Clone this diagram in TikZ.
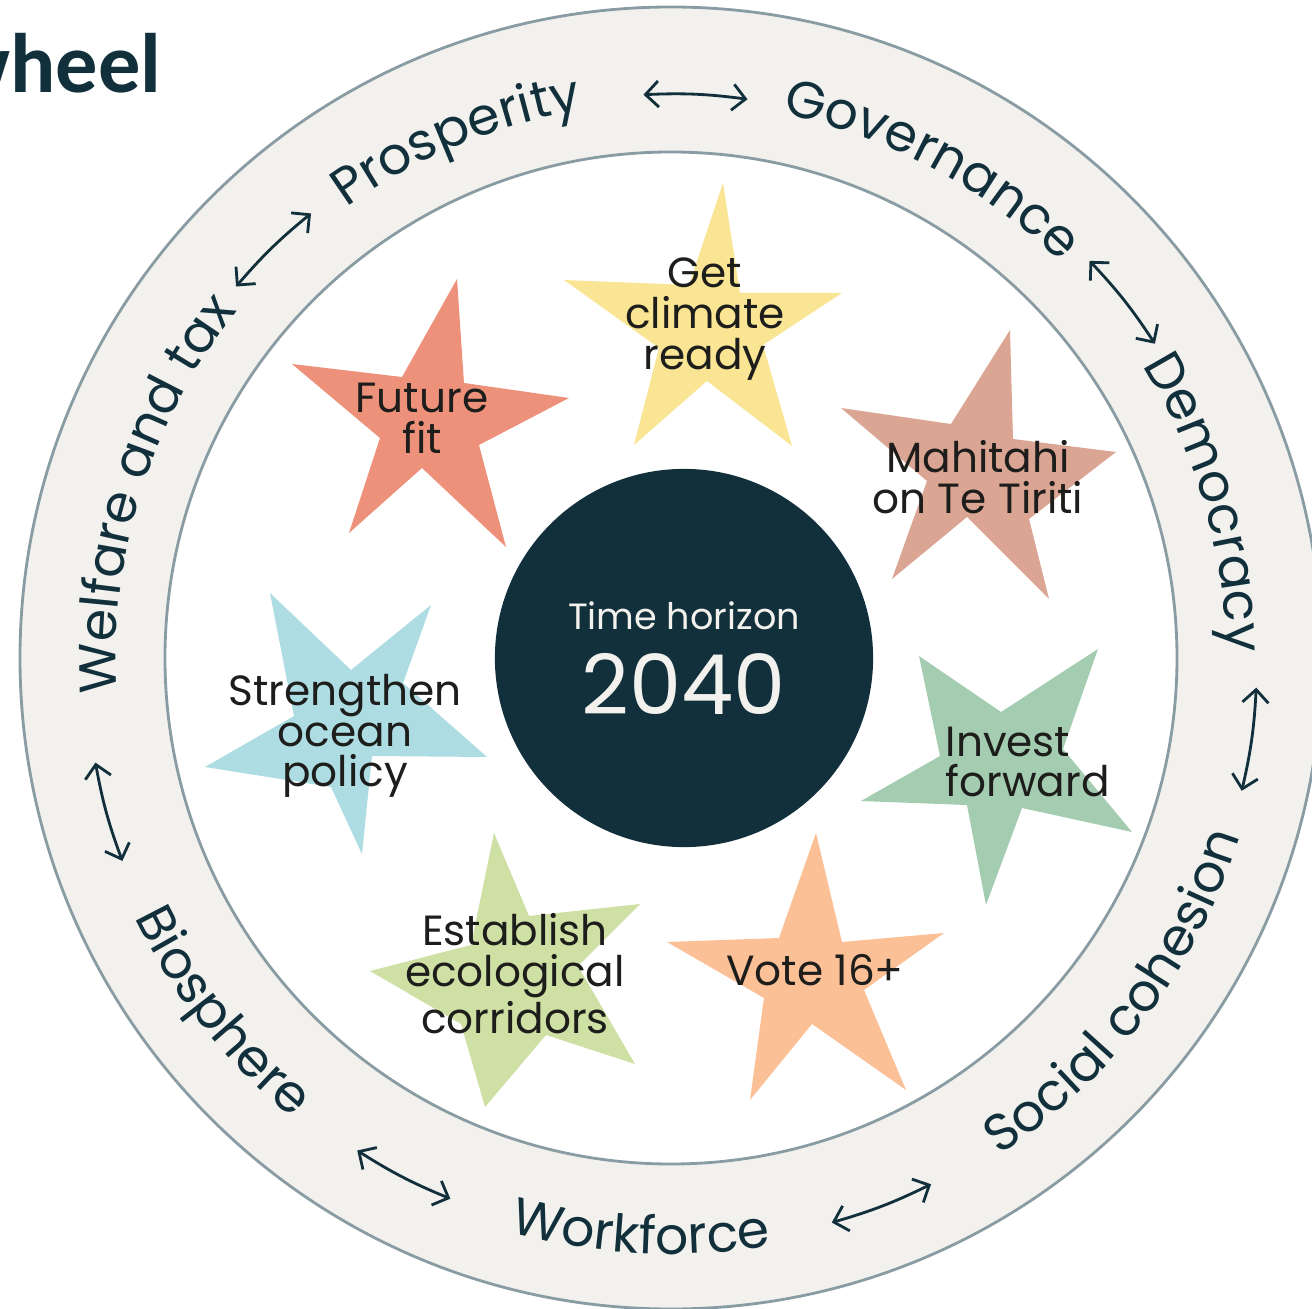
\documentclass[tikz,border=0pt]{standalone}
\usepackage{fontspec}
\setmainfont{Poppins}
\newfontfamily\titlefont{Carlito}
\usetikzlibrary{decorations.text,arrows.meta}
\definecolor{deepteal}{HTML}{11303B}
\definecolor{ringgrey}{HTML}{F2F1EE}
\definecolor{rimline}{HTML}{8A9CA3}
\definecolor{ink}{HTML}{1D1D1B}
\definecolor{offwhite}{HTML}{F2F1EE}
\definecolor{futurefit}{HTML}{EE917A}
\definecolor{climate}{HTML}{F9E594}
\definecolor{mahitahi}{HTML}{DBA594}
\definecolor{invest}{HTML}{A4CCB1}
\definecolor{vote}{HTML}{FBC096}
\definecolor{corridor}{HTML}{CFE0A4}
\definecolor{ocean}{HTML}{AEDCE3}
\newcommand\ringfont{\fontsize{14.8}{16}\selectfont}
\begin{document}
\begin{tikzpicture}[x=0.01cm,y=0.01cm]
\tikzstyle{lbl}=[align=center, text=ink, inner sep=0, font=\fontsize{12}{11.6}\selectfont]
\tikzstyle{twoway}=[{Straight Barb[length=1.3mm,width=2.6mm]}-{Straight Barb[length=1.3mm,width=2.6mm]}, line width=0.8pt, draw=deepteal]
\tikzstyle{rim}=[draw=rimline, line width=0.8pt]

% page, centre of the wheel at (0,0)
\useasboundingbox (-671,-651) rectangle (641,658);
\clip (-671,-651) rectangle (641,658);
\fill[white] (-671,-651) rectangle (641,658);

\node (title) [anchor=base east, inner sep=0, text=deepteal, font=\titlefont\bfseries\fontsize{24}{24}\selectfont] at (-509,565) {wheel};

% ring
\fill[ringgrey] (0,0) circle[radius=651];
\draw[rim] (0,0) circle[radius=651];
\filldraw[rim, fill=white] (0,0) circle[radius=506];

% ring words, upper half clockwise
\path[decorate, decoration={text along path, text align=center, text color=deepteal, text={|\ringfont|Welfare and tax}}] (202.5:555) arc[start angle=202.5, end angle=122.5, radius=555];
\path[decorate, decoration={text along path, text align=center, text color=deepteal, text={|\ringfont|Prosperity}}] (152.5:555) arc[start angle=152.5, end angle=72.5, radius=555];
\path[decorate, decoration={text along path, text align=center, text color=deepteal, text={|\ringfont|Governance}}] (101.9:555) arc[start angle=101.9, end angle=21.9, radius=555];
\path[decorate, decoration={text along path, text align=center, text color=deepteal, text={|\ringfont|Democracy}}] (56.2:555) arc[start angle=56.2, end angle=-23.8, radius=555];
% lower half anticlockwise
\path[decorate, decoration={text along path, text align=center, text color=deepteal, text={|\ringfont|Biosphere}}] (178.2:596) arc[start angle=178.2, end angle=258.2, radius=596];
\path[decorate, decoration={text along path, text align=center, text color=deepteal, text={|\ringfont|Workforce}}] (-133:596) arc[start angle=-133, end angle=-53, radius=596];
\path[decorate, decoration={text along path, text align=center, text color=deepteal, text={|\ringfont|Social cohesion}}] (-77:596) arc[start angle=-77, end angle=3, radius=596];

% arrows between the words
\foreach \n/\a/\b/\r in {1/129/139.5/572, 2/82.2/92.8/564, 3/33/43.5/577, 4/-13.1/-2.9/586, 5/-74.1/-63.7/587, 6/-122.5/-112.2/584, 7/-169.7/-159.7/585} {
\coordinate (s\n) at (\a:\r);
\coordinate (e\n) at (\b:\r);
\draw[twoway] (s\n) to[bend right=5] (e\n);
}

% stars
\fill[futurefit] (-214,379) -- (-207,275) -- (-102,260) -- (-192,213) -- (-165,111) -- (-249,190) -- (-322,125) -- (-291,220) -- (-379,294) -- (-269,281) -- cycle;
\fill[climate] (52,475) -- (69,365) -- (171,365) -- (92,313) -- (121,212) -- (36,277) -- (-37,213) -- (-12,310) -- (-107,378) -- (18,373) -- cycle;
\fill[mahitahi] (339,328) -- (342,219) -- (445,206) -- (358,139) -- (378,59) -- (296,141) -- (221,79) -- (256,177) -- (170,250) -- (280,234) -- cycle;
\fill[invest] (248,2) -- (330,-54) -- (427,9) -- (392,-91) -- (461,-174) -- (351,-150) -- (315,-247) -- (296,-147) -- (190,-143) -- (269,-98) -- cycle;
\fill[ocean] (-401,65) -- (-320,-12) -- (-240,53) -- (-268,-25) -- (-184,-99) -- (-299,-98) -- (-309,-196) -- (-340,-129) -- (-466,-109) -- (-377,-58) -- cycle;
\fill[corridor] (-177,-175) -- (-142,-258) -- (-31,-246) -- (-93,-308) -- (-36,-406) -- (-125,-377) -- (-186,-449) -- (-210,-366) -- (-301,-313) -- (-200,-287) -- cycle;
\fill[vote] (145,-175) -- (171,-284) -- (273,-275) -- (193,-332) -- (235,-432) -- (141,-366) -- (79,-442) -- (93,-340) -- (-4,-284) -- (108,-280) -- cycle;

\node (futurelbl) [lbl] at (-249,240) {Future\\fit};
\node (climatelbl) [lbl] at (34,339) {Get\\climate\\ready};
\node (mahitahilbl) [lbl] at (307,181) {Mahitahi\\on Te Tiriti};
\node (investlbl) [lbl, align=left, anchor=west] at (274,-104) {Invest\\forward};
\node (oceanlbl) [lbl] at (-326,-78) {Strengthen\\ocean\\policy};
\node (corridorlbl) [lbl] at (-156,-316) {Establish\\ecological\\corridors};
\node (votelbl) [lbl] at (144,-312) {Vote 16+};

% hub
\node (hub) [circle, fill=deepteal, minimum size=3.78cm, inner sep=0] at (13,0) {};
\node (horizon) [text=offwhite, font=\fontsize{10.4}{12}\selectfont] at (13,42) {Time horizon};
\node (year) [text=offwhite, font=\fontsize{23.6}{26}\selectfont] at (13,-26) {2040};

\end{tikzpicture}
\end{document}
